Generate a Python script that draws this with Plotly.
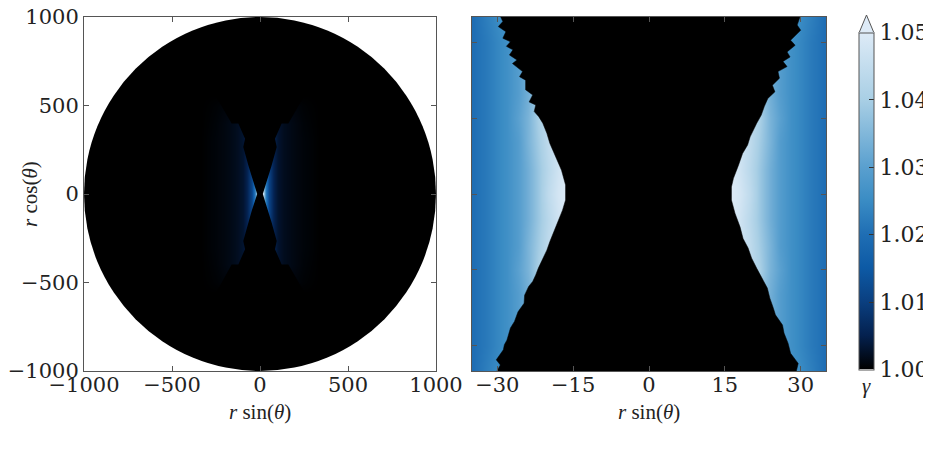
import numpy as np
import plotly.graph_objects as go

# Axis ticks
ticks_left = [-1000, -500, 0, 500, 1000]
ticks_right = [-30, -15, 0, 15, 30]
ticks_bar = [1.00, 1.01, 1.02, 1.03, 1.04, 1.05]
disc_radius = 1000

# Left panel: gamma, one quadrant
x_left = [0, 16, 30, 50, 75, 100, 130, 160, 200, 250, 300, 340]
y_left = [0, 100, 200, 300, 400, 500, 560]
gamma_left = [
    [1.050, 1.050, 1.022, 1.011, 1.005, 1.0030, 1.002, 1.0015, 1.0010, 1.0006, 1.0003, 1.0],
    [1.030, 1.030, 1.022, 1.011, 1.005, 1.0030, 1.002, 1.0015, 1.0010, 1.0006, 1.0003, 1.0],
    [1.020, 1.020, 1.016, 1.010, 1.005, 1.0030, 1.002, 1.0015, 1.0010, 1.0006, 1.0003, 1.0],
    [1.010, 1.010, 1.010, 1.007, 1.005, 1.0030, 1.002, 1.0015, 1.0010, 1.0006, 1.0003, 1.0],
    [1.005, 1.005, 1.005, 1.005, 1.004, 1.0030, 1.002, 1.0015, 1.0010, 1.0005, 1.0002, 1.0],
    [1.002, 1.002, 1.002, 1.002, 1.002, 1.0012, 1.001, 1.0008, 1.0006, 1.0003, 1.0001, 1.0],
    [1.000, 1.000, 1.000, 1.000, 1.000, 1.0000, 1.000, 1.000, 1.0000, 1.0000, 1.0000, 1.0],
]
# Edge of the dark wedge on the left panel, one quadrant
x_wedge = [16, 47, 66, 95, 85, 123, 161, 237, 250]
y_wedge = [0, 95, 161, 265, 312, 398, 398, 530, 560]

# Right panel: gamma, one quadrant
x_right = [14, 16, 18, 20, 22, 24, 26, 28, 30, 32, 36]
y_right = [0, 5, 10, 15, 20, 25, 30, 36]
gamma_right = [
    [1.050, 1.050, 1.048, 1.044, 1.038, 1.033, 1.029, 1.026, 1.024, 1.022, 1.019],
    [1.050, 1.050, 1.047, 1.043, 1.038, 1.033, 1.029, 1.026, 1.024, 1.022, 1.019],
    [1.048, 1.048, 1.047, 1.044, 1.039, 1.034, 1.029, 1.026, 1.024, 1.022, 1.019],
    [1.046, 1.046, 1.046, 1.044, 1.040, 1.034, 1.030, 1.026, 1.024, 1.022, 1.019],
    [1.044, 1.044, 1.044, 1.042, 1.038, 1.033, 1.029, 1.026, 1.024, 1.022, 1.019],
    [1.040, 1.040, 1.040, 1.038, 1.036, 1.033, 1.029, 1.026, 1.024, 1.022, 1.019],
    [1.034, 1.034, 1.034, 1.033, 1.032, 1.031, 1.029, 1.026, 1.024, 1.022, 1.019],
    [1.029, 1.029, 1.029, 1.029, 1.029, 1.028, 1.028, 1.027, 1.025, 1.023, 1.0185],
]

# Jagged edge of the black region on the right panel, top to bottom
x_edge_west = [-29.8, -28.9, -29.8, -28.3, -28.9, -27.4, -28.2, -26.9, -27.6, -26.1, -27.0,
               -25.0, -25.6, -24.4, -24.4, -23.0, -23.7, -22.4, -22.7, -21.8, -21.0, -20.2,
               -19.6, -18.4, -17.3, -16.5, -16.5, -17.1, -17.9, -18.6, -19.6, -20.2, -21.0,
               -21.9, -22.4, -23.0, -23.8, -24.6, -24.7, -25.9, -26.6, -27.4, -27.8, -28.1,
               -28.6, -28.8, -30.2, -29.4, -30.6]
y_edge_west = [36, 34.1, 33.1, 32.1, 30.8, 30.1, 29.2, 28.5, 27.5, 26.5, 25.8,
               24.2, 23.2, 22.5, 20.6, 19.6, 18.2, 17.6, 16.3, 15.3, 14.0, 12.0,
               10.0, 7.4, 4.7, 1.8, -1.2, -3.2, -5.1, -7.1, -9.4, -11.1, -12.7,
               -14.7, -16.0, -17.3, -18.3, -20.0, -21.6, -23.3, -25.2, -26.5, -27.9, -28.9,
               -29.8, -30.8, -32.8, -33.8, -36]
x_edge_east = [30.2, 29.3, 30.0, 28.0, 28.9, 27.3, 27.9, 26.5, 27.3, 25.5, 25.8, 24.4, 24.9,
               23.5, 22.8, 22.2, 21.3, 20.0, 19.5, 18.5, 17.7, 16.7, 16.3, 16.3, 17.0, 18.0,
               18.6, 19.6, 20.3, 21.3, 22.3, 23.4, 23.9, 24.6, 25.0, 26.4, 26.7, 27.5, 28.0,
               29.5, 28.9]
y_edge_east = [36, 33.4, 32.4, 30.4, 29.4, 28.1, 27.1, 26.2, 25.2, 24.2, 22.9, 21.5, 20.2,
               18.9, 17.3, 15.6, 14.0, 11.3, 9.7, 8.0, 5.7, 3.1, 1.4, -1.2, -3.8, -6.5,
               -8.8, -10.7, -12.7, -14.7, -16.7, -18.6, -20.6, -22.6, -23.9, -25.9, -27.5, -29.5, -31.5,
               -33.5, -36]

# Colour map of the bar
colorscale = [
    [0.0, '#000000'],
    [0.1, '#04214f'],
    [0.2, '#0a3f80'],
    [0.3, '#0d5aa5'],
    [0.4, '#1f6eb4'],
    [0.5, '#3a8cc4'],
    [0.6, '#5aa0cf'],
    [0.8, '#a9cfe5'],
    [1.0, '#deebf7'],
]

# The page keeps an 8 px body margin, so the figure is that much smaller
WIDTH = 923
HEIGHT = 450


def px_x(px):
    return (px - 8) / WIDTH


def px_y(px):
    return 1 - (px - 8) / HEIGHT


def mirror_table(x, y, table):
    # The tables hold one quadrant, the panels show all four
    table = np.array(table)
    table = np.hstack([table[:, ::-1], table])
    table = np.vstack([table[::-1], table])
    x = np.array(x)
    y = np.array(y)
    return np.concatenate([-x[::-1], x]), np.concatenate([-y[::-1], y]), table


serif = 'DejaVu Serif'
label_font = dict(family='Liberation Serif', size=21, color='#222222')
frame = '#555555'

fig = go.Figure()

# Left panel
xs, ys, zs = mirror_table(x_left, y_left, gamma_left)
fig.add_trace(go.Heatmap(x=xs, y=ys, z=zs, zsmooth='best', coloraxis='coloraxis',
                         xaxis='x', yaxis='y', hoverinfo='skip'))

x_wedge = np.array(x_wedge)
y_wedge = np.array(y_wedge)
wedge_x = np.concatenate([x_wedge, -x_wedge[::-1], -x_wedge, x_wedge[::-1]])
wedge_y = np.concatenate([y_wedge, y_wedge[::-1], -y_wedge, -y_wedge[::-1]])
fig.add_trace(go.Scatter(x=wedge_x, y=wedge_y, mode='lines', fill='toself', fillcolor='#000000',
                         line=dict(width=0, color='#000000'), xaxis='x', yaxis='y',
                         hoverinfo='skip', showlegend=False))

# Right panel
xs, ys, zs = mirror_table(x_right, y_right, gamma_right)
fig.add_trace(go.Heatmap(x=xs, y=ys, z=zs, zsmooth='best', coloraxis='coloraxis',
                         xaxis='x2', yaxis='y2', hoverinfo='skip'))
fig.add_trace(go.Scatter(x=x_edge_west + x_edge_east[::-1], y=y_edge_west + y_edge_east[::-1],
                         mode='lines', fill='toself', fillcolor='#000000',
                         line=dict(width=0.5, color='#000000'), xaxis='x2', yaxis='y2',
                         hoverinfo='skip', showlegend=False))

# Black disc behind the left heatmap
fig.add_shape(type='circle', xref='x', yref='y', x0=-disc_radius, y0=-disc_radius,
              x1=disc_radius, y1=disc_radius, fillcolor='#000000', line_width=0, layer='below')

# Arrow on top of the colour bar
fig.add_shape(type='path', xref='paper', yref='paper',
              path='M %f %f L %f %f L %f %f Z' % (px_x(859), px_y(33), px_x(866.5), px_y(15), px_x(874), px_y(33)),
              fillcolor='#deebf7', line=dict(color=frame, width=1))

axis_style = dict(showline=True, mirror='ticks', linecolor=frame, linewidth=1, ticks='inside',
                  ticklen=5, tickcolor=frame, showgrid=False, zeroline=False,
                  ticklabeloverflow='allow',
                  tickfont=dict(family=serif, size=21, color='#222222'))

fig.update_layout(
    width=WIDTH,
    height=HEIGHT,
    margin=dict(l=0, r=0, t=0, b=0, autoexpand=False),
    paper_bgcolor='white',
    plot_bgcolor='white',
    showlegend=False,
    xaxis=dict(domain=[px_x(84), px_x(436)], range=[-1000, 1000], tickvals=ticks_left,
               ticklabelstandoff=-5, **axis_style),
    yaxis=dict(domain=[px_y(371), px_y(17)], range=[-1000, 1000], tickvals=ticks_left, **axis_style),
    xaxis2=dict(domain=[px_x(472), px_x(826)], range=[-35, 35], tickvals=ticks_right, anchor='y2',
                ticklabelstandoff=-5, **axis_style),
    yaxis2=dict(domain=[px_y(371), px_y(17)], range=[-35, 35], tickvals=ticks_right, anchor='x2',
                showticklabels=False, **axis_style),
    coloraxis=dict(
        cmin=1.0,
        cmax=1.05,
        colorscale=colorscale,
        colorbar=dict(
            x=px_x(859), xanchor='left', xpad=0,
            y=px_y(369.5), yanchor='bottom', ypad=0,
            thickness=15, thicknessmode='pixels',
            len=336.5, lenmode='pixels',
            outlinecolor=frame, outlinewidth=1,
            ticks='inside', ticklen=5, tickcolor='#333333',
            tickvals=ticks_bar, tickformat='.2f',
            tickfont=dict(family=serif, size=22, color='#222222'),
        ),
    ),
    annotations=[
        dict(text='<i>γ</i>', xref='paper', yref='paper', x=px_x(866), y=px_y(386),
             xanchor='center', yanchor='middle', showarrow=False, font=label_font),
        dict(text='<i>r</i> cos(<i>θ</i>)', xref='paper', yref='paper', x=px_x(30), y=px_y(194),
             xanchor='center', yanchor='middle', showarrow=False, font=label_font, textangle=-90),
        dict(text='<i>r</i> sin(<i>θ</i>)', xref='paper', yref='paper', x=px_x(260), y=px_y(412),
             xanchor='center', yanchor='middle', showarrow=False, font=label_font),
        dict(text='<i>r</i> sin(<i>θ</i>)', xref='paper', yref='paper', x=px_x(649), y=px_y(412),
             xanchor='center', yanchor='middle', showarrow=False, font=label_font),
    ],
)

fig.write_html('out.html')
